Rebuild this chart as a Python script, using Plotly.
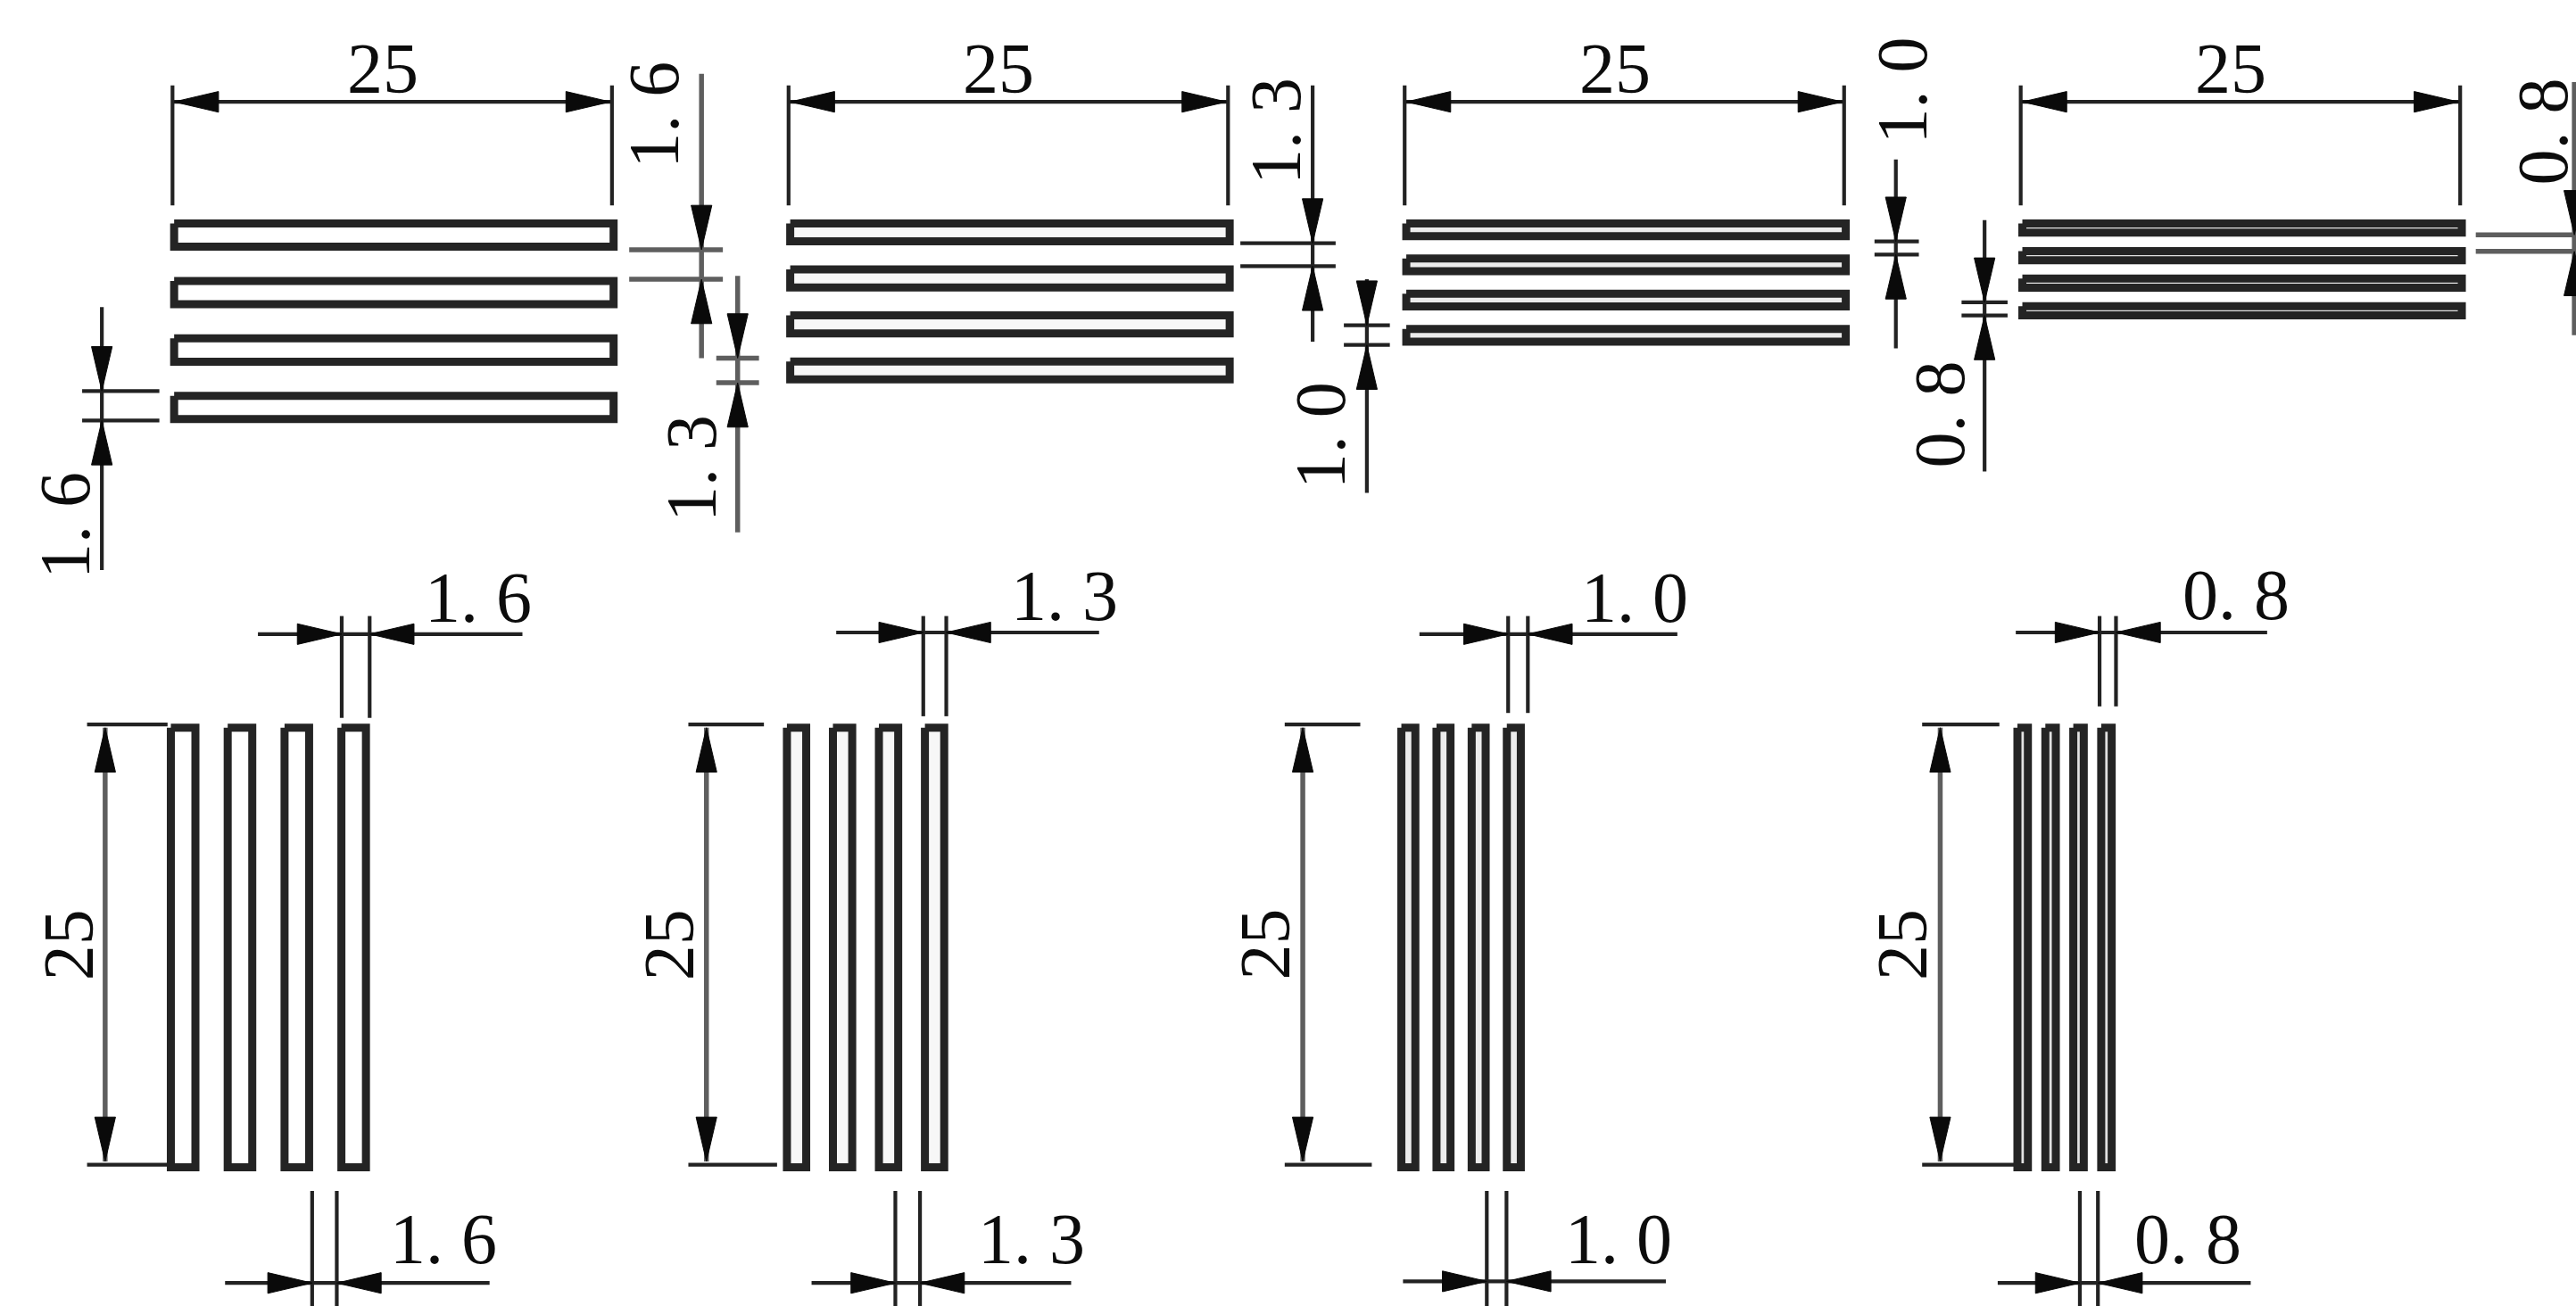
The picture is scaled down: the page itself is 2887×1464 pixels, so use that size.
import plotly.graph_objects as go

# dimension values (mm)
SLIT_GAPS = [1.6, 1.3, 1.0, 0.8]
SLIT_LENGTH = 25
SLIT_COUNT = 4
LENGTH_LABEL = "25"
GAP_LABELS = ["1. 6", "1. 3", "1. 0", "0. 8"]
SLIT_FILLS = ["#ffffff", "#f7f7f7", "#ececec", "#e2e2e2"]

# sheet placement of the four specimens (sheet units)
SHEET_W, SHEET_H = 1568, 795
UNIT = 10.72
ROW_LEFT = [106, 481, 856, 1231]
ROW_TOP = 136
ROW_PITCH = [35, 28, 21.4, 16.8]
COL_LEFT = [104, 479, 853, 1228]
COL_TOP = 443
COL_PITCH = [34.6, 28, 21.4, 17]

fig = go.Figure()
thin, soft, heads = [], [], []
bars = [[] for _ in SLIT_GAPS]


def seg(store, x0, y0, x1, y1):
    store.append(((x0, x1, None), (y0, y1, None)))


def head(tx, ty, dx, dy):
    L, W = 27, 6.3
    heads.append(((tx, tx + dx * L + dy * W, tx + dx * L - dy * W, tx, None),
                  (ty, ty + dy * L + dx * W, ty + dy * L - dx * W, ty, None)))


def rect(store, x0, y0, x1, y1):
    store.append(((x0, x1, x1, x0, x0, None), (y0, y0, y1, y1, y0, None)))


def gap_vertical(x, a, b, top, bottom, e0, e1, style=thin):
    seg(style, e0, a, e1, a)
    seg(style, e0, b, e1, b)
    seg(style, x, top, x, bottom)
    head(x, a, 0, -1)
    head(x, b, 0, 1)


def gap_horizontal(y, a, b, left, right, top, bottom, style=thin):
    seg(style, a, top, a, bottom)
    seg(style, b, top, b, bottom)
    seg(style, left, y, right, y)
    head(a, y, -1, 0)
    head(b, y, 1, 0)


def label(x, y, text, angle=0):
    fig.add_annotation(x=x, y=y, text=text, showarrow=False, textangle=angle,
                       xanchor="center", yanchor="middle",
                       font=dict(family="Liberation Serif", size=80, color="#0c0c0c"))


# horizontal slit sets, top row
for i, w in enumerate(SLIT_GAPS):
    x0, x1 = ROW_LEFT[i], ROW_LEFT[i] + SLIT_LENGTH * UNIT - 0.5
    for k in range(SLIT_COUNT):
        y = ROW_TOP + k * ROW_PITCH[i]
        rect(bars[i], x0, y, x1, y + w * UNIT - 3)
    seg(thin, x0 - 1, 52, x0 - 1, 125)
    seg(thin, x1 - 1, 52, x1 - 1, 125)
    seg(thin, x0 - 1, 62, x1 - 1, 62)
    head(x0, 62, 1, 0)
    head(x1 - 2, 62, -1, 0)
    label(x0 + 127, 42, LENGTH_LABEL)

# gap dimensions around the top row
gap_vertical(427, 152, 170, 45, 218, 383, 440, soft)
gap_vertical(449, 218, 233, 168, 324, 436, 462, soft)
gap_vertical(62, 238, 256, 187, 347, 50, 97)
gap_vertical(799, 148, 162, 52, 208, 755, 813)
gap_vertical(832, 198, 210, 170, 300, 818, 846)
gap_vertical(1154, 147, 155, 97, 212, 1141, 1168)
gap_vertical(1208, 184, 192, 134, 287, 1194, 1222)
gap_vertical(1567, 143, 153, 50, 204, 1507, 1568, soft)
label(398, 70, GAP_LABELS[0], -90)
label(421, 285, GAP_LABELS[1], -90)
label(40, 320, GAP_LABELS[0], -90)
label(777, 80, GAP_LABELS[1], -90)
label(804, 265, GAP_LABELS[2], -90)
label(1158, 55, GAP_LABELS[2], -90)
label(1181, 252, GAP_LABELS[3], -90)
label(1548, 80, GAP_LABELS[3], -90)

# vertical slit sets, bottom row
DIM_X = [64, 430, 793, 1181]
EXT_RIGHT = [102, 473, 835, 1226]
EXT_TOP_RIGHT = [102, 465, 828, 1217]
LABEL_X = [42, 407, 770, 1158]
for i, w in enumerate(SLIT_GAPS):
    x0 = COL_LEFT[i]
    for k in range(SLIT_COUNT):
        x = x0 + k * COL_PITCH[i]
        rect(bars[i], x, COL_TOP, x + w * UNIT - 2.2, COL_TOP + SLIT_LENGTH * UNIT - 0.5)
    seg(thin, DIM_X[i] - 11, 441, EXT_TOP_RIGHT[i], 441)
    seg(thin, DIM_X[i] - 11, 709, EXT_RIGHT[i], 709)
    seg(soft, DIM_X[i], 443, DIM_X[i], 707)
    head(DIM_X[i], 443, 0, 1)
    head(DIM_X[i], 707, 0, -1)
    label(LABEL_X[i], 575, LENGTH_LABEL, -90)

gap_horizontal(386, 208, 225, 157, 318, 375, 437)
gap_horizontal(781, 190, 205, 137, 298, 725, 795)
gap_horizontal(385, 562, 576, 509, 669, 375, 436)
gap_horizontal(781, 545, 560, 494, 652, 725, 795)
gap_horizontal(386, 918, 930, 864, 1021, 375, 434)
gap_horizontal(780, 905, 917, 854, 1014, 725, 795)
gap_horizontal(385, 1278, 1288, 1227, 1380, 375, 430)
gap_horizontal(781, 1266, 1277, 1216, 1370, 725, 795)
label(291, 364, GAP_LABELS[0])
label(270, 754, GAP_LABELS[0])
label(648, 363, GAP_LABELS[1])
label(628, 754, GAP_LABELS[1])
label(995, 364, GAP_LABELS[2])
label(985, 754, GAP_LABELS[2])
label(1361, 362, GAP_LABELS[3])
label(1332, 754, GAP_LABELS[3])


def flat(store):
    xs, ys = [], []
    for px, py in store:
        xs.extend(px)
        ys.extend(py)
    return xs, ys


for store, width, color in [(thin, 4.2, "#222222"), (soft, 5.5, "#5e5e5e")]:
    xs, ys = flat(store)
    fig.add_trace(go.Scatter(x=xs, y=ys, mode="lines", hoverinfo="skip",
                             line=dict(color=color, width=width)))
for store, tint in zip(bars, SLIT_FILLS):
    xs, ys = flat(store)
    fig.add_trace(go.Scatter(x=xs, y=ys, mode="lines", fill="toself", fillcolor=tint,
                             hoverinfo="skip", line=dict(color="#242424", width=9)))
xs, ys = flat(heads)
fig.add_trace(go.Scatter(x=xs, y=ys, mode="lines", fill="toself", fillcolor="#0a0a0a",
                         hoverinfo="skip", line=dict(color="#0a0a0a", width=1)))

fig.update_layout(width=2887, height=1464, margin=dict(l=0, r=0, t=0, b=0),
                  paper_bgcolor="white", plot_bgcolor="white", showlegend=False,
                  xaxis=dict(range=[0, SHEET_W], visible=False),
                  yaxis=dict(range=[SHEET_H, 0], visible=False))
fig.write_html("out.html", config=dict(displayModeBar=False),
               post_script="document.body.style.margin='0';document.body.style.overflow='hidden';")
